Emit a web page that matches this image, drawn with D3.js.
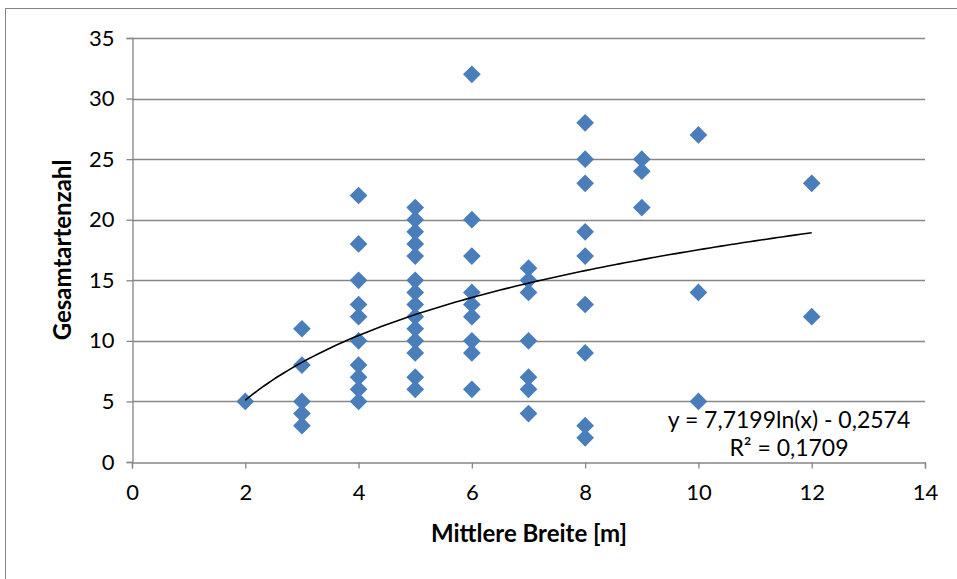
<!DOCTYPE html>
<html>
<head>
<meta charset="utf-8">
<script src="https://cdn.jsdelivr.net/npm/d3@7"></script>
<style>
  html, body { margin: 0; padding: 0; background: #fff; }
  svg { display: block; }
  text { font-family: Lato, "Open Sans", sans-serif; fill: #000; }
</style>
</head>
<body>
<svg id="chart" width="957" height="579"></svg>
<script>
// Mean width [m] per site and total species count
const breite = [2,
  3, 3, 3, 3, 3,
  4, 4, 4, 4, 4, 4, 4, 4, 4, 4,
  5, 5, 5, 5, 5, 5, 5, 5, 5, 5, 5, 5, 5, 5,
  6, 6, 6, 6, 6, 6, 6, 6, 6,
  7, 7, 7, 7, 7, 7, 7,
  8, 8, 8, 8, 8, 8, 8, 8, 8,
  9, 9, 9,
  10, 10, 10,
  12, 12];
const artenzahl = [5,
  11, 8, 5, 4, 3,
  22, 18, 15, 13, 12, 10, 8, 7, 6, 5,
  21, 20, 19, 18, 17, 15, 14, 13, 12, 11, 10, 9, 7, 6,
  32, 20, 17, 14, 13, 12, 10, 9, 6,
  16, 15, 14, 10, 7, 6, 4,
  28, 25, 23, 19, 17, 13, 9, 3, 2,
  25, 24, 21,
  27, 14, 5,
  23, 12];

// Logarithmic trend line: y = a*ln(x) + b
const trendA = 7.7199;
const trendB = -0.2574;
const rSquared = "0,1709";
const trendLabel = "y = 7,7199ln(x) - 0,2574";

const xTicks = [0, 2, 4, 6, 8, 10, 12, 14];
const yTicks = [0, 5, 10, 15, 20, 25, 30, 35];
const xTitle = "Mittlere Breite [m]";
const yTitle = "Gesamtartenzahl";

const svg = d3.select("#chart");
const grey = "#868686";

// outer chart frame
svg.append("rect")
  .attr("x", 5.5).attr("y", 8.5)
  .attr("width", 1000).attr("height", 1000)
  .attr("fill", "none").attr("stroke", grey).attr("stroke-width", 1);

const x = d3.scaleLinear().domain([0, 14]).range([132, 925]);
const y = d3.scaleLinear().domain([0, 35]).range([462, 38]);

// horizontal gridlines
svg.append("g")
  .selectAll("line")
  .data(yTicks.filter(d => d > 0))
  .join("line")
  .attr("x1", x(0)).attr("x2", x(14))
  .attr("y1", d => Math.round(y(d)) + 0.5)
  .attr("y2", d => Math.round(y(d)) + 0.5)
  .attr("stroke", grey).attr("stroke-width", 1.3);

// y axis
const yAxis = svg.append("g")
  .attr("transform", `translate(${x(0) + 0.5},0)`)
  .call(d3.axisLeft(y).tickValues(yTicks).tickSize(6).tickPadding(12).tickFormat(d3.format("d")));
yAxis.select(".domain").attr("stroke", grey).attr("stroke-width", 1.3);
yAxis.selectAll(".tick line").attr("stroke", grey).attr("stroke-width", 1.3);
yAxis.selectAll(".tick text").style("font-size", "22px").attr("fill", "#000");

// x axis
const xAxis = svg.append("g")
  .attr("transform", `translate(0,${Math.round(y(0)) + 0.5})`)
  .call(d3.axisBottom(x).tickValues(xTicks).tickSize(6).tickPadding(16).tickFormat(d3.format("d")));
xAxis.select(".domain").attr("stroke", grey).attr("stroke-width", 1.3);
xAxis.selectAll(".tick line").attr("stroke", grey).attr("stroke-width", 1.3);
xAxis.selectAll(".tick text").style("font-size", "22px").attr("fill", "#000");

// axis titles
svg.append("text")
  .attr("x", 529).attr("y", 542)
  .attr("text-anchor", "middle")
  .style("font-size", "24px").style("font-weight", "bold")
  .text(xTitle);

svg.append("text")
  .attr("transform", `translate(71,250) rotate(-90)`)
  .attr("text-anchor", "middle")
  .style("font-size", "24px").style("font-weight", "bold")
  .text(yTitle);

// data points as diamonds
const diamond = d3.symbol().type(d3.symbolDiamond2).size(200);
svg.append("g")
  .selectAll("path")
  .data(breite.map((b, i) => [b, artenzahl[i]]))
  .join("path")
  .attr("transform", d => `translate(${x(d[0])},${y(d[1])})`)
  .attr("d", diamond)
  .attr("fill", "#4a7ebb");

// trend curve from x = 2 to x = 12
const trendX = d3.range(2, 12.001, 0.1);
const line = d3.line()
  .x(d => x(d))
  .y(d => y(trendA * Math.log(d) + trendB))
  .curve(d3.curveMonotoneX);
svg.append("path")
  .datum(trendX)
  .attr("d", line)
  .attr("fill", "none")
  .attr("stroke", "#000")
  .attr("stroke-width", 1.6);

// trend equation label
svg.append("text")
  .attr("x", 789).attr("y", 428)
  .attr("text-anchor", "middle")
  .style("font-size", "23px")
  .text(trendLabel);
svg.append("text")
  .attr("x", 789).attr("y", 456)
  .attr("text-anchor", "middle")
  .style("font-size", "23px")
  .text("R² = " + rSquared);
</script>
</body>
</html>
